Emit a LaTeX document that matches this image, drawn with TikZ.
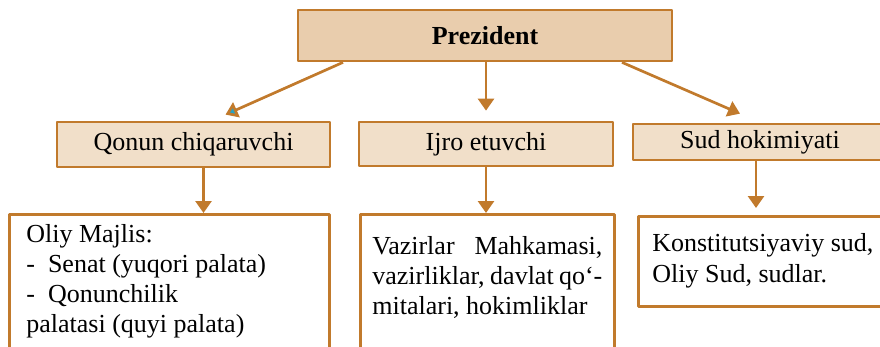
\documentclass[tikz,border=0pt]{standalone}
\usepackage{fontspec}
\setmainfont{Liberation Serif}
\usetikzlibrary{arrows.meta}
\definecolor{boxline}{HTML}{C17A2C}
\definecolor{topfill}{HTML}{E9CDAD}
\definecolor{midfill}{HTML}{F1DFC9}
\definecolor{tipcyan}{HTML}{27A3C3}

\begin{document}
\begin{tikzpicture}[x=1pt,y=1pt,>={Triangle[width=16pt,length=12pt]},line join=bevel,
  box/.style={draw=boxline,line width=2.7pt,inner sep=0pt},
  head/.style={box,fill=midfill,font=\fontsize{26}{30}\selectfont},
  leaf/.style={box,fill=white,anchor=north west,inner ysep=0pt,align=flush left,font=\fontsize{26}{30}\selectfont},
  link/.style={draw=boxline,line width=2.7pt,->},]
%%
  \useasboundingbox (0,0) rectangle (880,346);
  \clip (0,0) rectangle (880,346);

  \node (node_0) at (485,310.5) [head,fill=topfill,minimum width=374pt,minimum height=51pt] {\textbf{Prezident}};
  \node (node_1) at (193.5,201.5) [head,minimum width=273pt,minimum height=45pt] {Qonun chiqaruvchi};
  \node (node_2) at (486,202) [head,minimum width=254pt,minimum height=44pt] {Ijro etuvchi};
  \node (node_3) at (760,204) [head,minimum width=254pt,minimum height=36pt] {Sud hokimiyati};

  \node (node_4) at (8,133) [leaf,inner xsep=17pt,text width=286pt,text height=28pt,text depth=150pt]
    {Oliy Majlis:\\-\hspace{13pt}Senat (yuqori palata)\\-\hspace{13pt}Qonunchilik\\palatasi (quyi palata)};
  \node (node_5) at (359,133) [leaf,inner xsep=12pt,text width=230pt,text height=40pt,text depth=150pt]
    {\makebox[230pt][s]{Vazirlar Mahkamasi,}\\\makebox[230pt][s]{vazirliklar, davlat qo‘-}\\mitalari, hokimliklar};
  \node (node_6) at (637,131) [leaf,inner xsep=14pt,text width=240pt,text height=35pt,text depth=55pt,
    font=\fontsize{26}{31}\selectfont]
    {Konstitutsiyaviy sud,\\Oliy Sud, sudlar.};

  \draw [link,-{Triangle[width=16pt,length=12pt,fill=tipcyan]}] ([xshift=-142pt]node_0.south) -- ([xshift=32pt,yshift=6pt]node_1.north);
  \draw [link] (node_0.south -| node_2) -- ([yshift=10pt]node_2.north);
  \draw [link] ([xshift=137pt]node_0.south) -- ([xshift=-20pt,yshift=9pt]node_3.north);

  \draw [link] ([xshift=10pt]node_1.south) -- ([xshift=10pt]node_1.south |- node_4.north);
  \draw [link] (node_2.south) -- (node_2.south |- node_5.north);
  \draw [link] ([xshift=-4pt]node_3.south) -- ([xshift=-4pt,yshift=7pt]node_3.south |- node_6.north);

\end{tikzpicture}
\end{document}
